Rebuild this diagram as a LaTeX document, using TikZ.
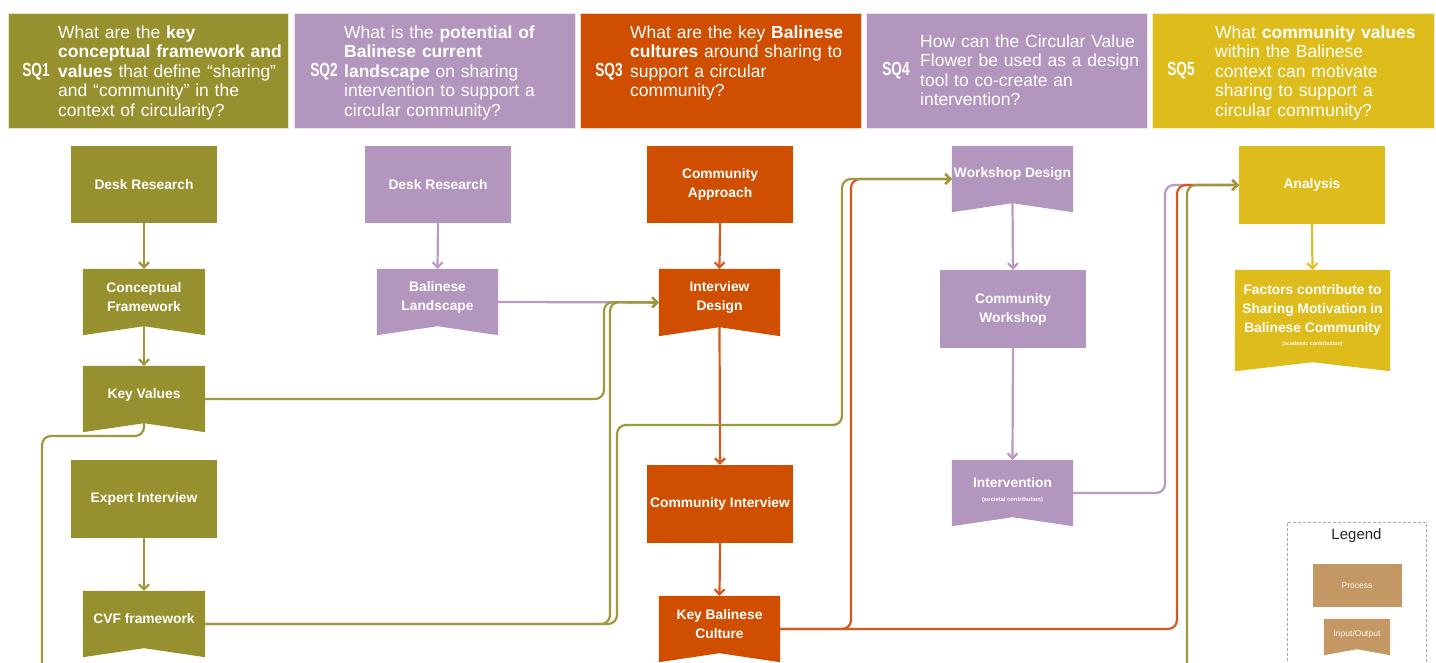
\documentclass[tikz,border=0pt]{standalone}
\usepackage{fontspec}
\setmainfont{Liberation Sans}
\usetikzlibrary{arrows.meta,calc}
\definecolor{olv}{RGB}{150,145,46}
\definecolor{olvl}{RGB}{158,153,60}
\definecolor{lav}{RGB}{178,150,190}
\definecolor{lavl}{RGB}{184,154,198}
\definecolor{org}{RGB}{208,78,0}
\definecolor{orgl}{RGB}{214,88,28}
\definecolor{ylw}{RGB}{222,188,28}
\definecolor{ylwl}{RGB}{224,190,40}
\definecolor{legtan}{RGB}{196,152,100}
\newcommand{\ioshape}[3]{\fill[#2] (#1.north west) -- (#1.north east) -- (#1.south east) -- ([yshift=#3]#1.south) -- (#1.south west) -- cycle;}
\newcommand{\smallfnt}{\fontsize{5.8}{6}\selectfont}
\tikzset{
  nfont/.style={font=\bfseries\fontsize{13.8}{19}\selectfont},
  proc/.style={rectangle, fill=#1, inner sep=0pt, text=white, nfont, align=center},
  iobox/.style={rectangle, inner sep=0pt},
  ntext/.style={inner sep=0pt, text=white, nfont, align=center},
  hdr/.style={rectangle, fill=#1, draw=white!75!#1, line width=0.8pt, inner sep=0pt, minimum height=115pt},
  sqlab/.style={inner sep=0pt, text=white, font=\bfseries\fontsize{19}{19}\selectfont},
  htext/.style={inner sep=0pt, text=white, anchor=base west, text width=250pt, align=left, font=\fontsize{17.5}{19.5}\selectfont},
  conn/.style={line width=2.2pt, rounded corners=9pt, -{Straight Barb[length=5pt,width=10pt]}}
}
\begin{document}
\begin{tikzpicture}[x=1pt,y=-1pt]
\useasboundingbox (0,0) rectangle (1436,663);
\fill[white] (0,0) rectangle (1436,663);
\clip (0,0) rectangle (1436,663);

% ---------- headers ----------
\node[hdr=olv, minimum width=280pt] (h1) at (148,70.5) {};
\node[hdr=lav, minimum width=281pt] (h2) at (434.5,70.5) {};
\node[hdr=org, minimum width=281pt] (h3) at (720.5,70.5) {};
\node[hdr=lav, minimum width=281pt] (h4) at (1006.5,70.5) {};
\node[hdr=ylw, minimum width=282pt] (h5) at (1293,70.5) {};

\node[sqlab] (q1) at (36,72) {\scalebox{0.72}[1]{SQ1}};
\node[sqlab] (q2) at (324,72) {\scalebox{0.72}[1]{SQ2}};
\node[sqlab] (q3) at (609,72) {\scalebox{0.72}[1]{SQ3}};
\node[sqlab] (q4) at (896,71) {\scalebox{0.72}[1]{SQ4}};
\node[sqlab] (q5) at (1181,71) {\scalebox{0.72}[1]{SQ5}};

\node[htext] (t1) at (58,38.5) {What are the \textbf{key}\\\textbf{conceptual framework and}\\\textbf{values} that define “sharing”\\and “community” in the\\context of circularity?};
\node[htext] (t2) at (344,38.5) {What is the \textbf{potential of}\\\textbf{Balinese current}\\\textbf{landscape} on sharing\\intervention to support a\\circular community?};
\node[htext] (t3) at (630,38.5) {What are the key \textbf{Balinese}\\\textbf{cultures} around sharing to\\support a circular\\community?};
\node[htext] (t4) at (920,47.5) {How can the Circular Value\\Flower be used as a design\\tool to co-create an\\intervention?};
\node[htext] (t5) at (1215,38.5) {What \textbf{community values}\\within the Balinese\\context can motivate\\sharing to support a\\circular community?};

% ---------- SQ1 column ----------
\node[proc=olv, minimum width=146pt, minimum height=77pt] (dr1) at (144,184.5) {Desk Research};
\node[iobox, minimum width=122pt, minimum height=66pt] (cf) at (144,302) {};
\ioshape{cf}{olv}{9pt}
\node[ntext] (cft) at ([yshift=5pt]cf.center) {Conceptual\\Framework};
\node[iobox, minimum width=122pt, minimum height=66pt] (kv) at (144,399) {};
\ioshape{kv}{olv}{9pt}
\node[ntext] (kvt) at ([yshift=4pt]kv.center) {Key Values};
\node[proc=olv, minimum width=146pt, minimum height=78pt] (ei) at (144,498.5) {Expert Interview};
\node[iobox, minimum width=122pt, minimum height=66pt] (cvf) at (144,624) {};
\ioshape{cvf}{olv}{9pt}
\node[ntext] (cvft) at ([yshift=5pt]cvf.center) {CVF framework};

% ---------- SQ2 column ----------
\node[proc=lav, minimum width=146pt, minimum height=77pt] (dr2) at (438,184.5) {Desk Research};
\node[iobox, minimum width=121pt, minimum height=66pt] (bl) at (437.5,302) {};
\ioshape{bl}{lav}{9pt}
\node[ntext] (blt) at ([yshift=5pt]bl.center) {Balinese\\Landscape};

% ---------- SQ3 column ----------
\node[proc=org, minimum width=146pt, minimum height=77pt] (ca) at (720,184.5) {Community\\Approach};
\node[iobox, minimum width=121pt, minimum height=67pt] (id) at (719.5,302.5) {};
\ioshape{id}{org}{9pt}
\node[ntext] (idt) at ([yshift=5pt]id.center) {Interview\\Design};
\node[proc=org, minimum width=146pt, minimum height=78pt] (ci) at (720,504) {Community Interview};
\node[iobox, minimum width=121pt, minimum height=66pt] (kbc) at (719.5,629) {};
\ioshape{kbc}{org}{9pt}
\node[ntext] (kbct) at ([yshift=5pt]kbc.center) {Key Balinese\\Culture};

% ---------- SQ4 column ----------
\node[iobox, minimum width=121pt, minimum height=66pt] (wd) at (1012.5,179) {};
\ioshape{wd}{lav}{9pt}
\node[ntext] (wdt) at ([yshift=5pt]wd.center) {Workshop Design};
\node[proc=lav, minimum width=146pt, minimum height=78pt] (cw) at (1013,309) {Community\\Workshop};
\node[iobox, minimum width=121pt, minimum height=66pt] (int) at (1012.5,493) {};
\ioshape{int}{lav}{9pt}
\node[ntext] (intt) at ([yshift=3pt]int.center) {Intervention\\[-5pt]{\smallfnt (societal contribution)}};

% ---------- SQ5 column ----------
\node[proc=ylw, minimum width=146pt, minimum height=78pt] (an) at (1312,185) {Analysis};
\node[iobox, minimum width=155pt, minimum height=101pt] (fac) at (1312.5,320.5) {};
\ioshape{fac}{ylw}{9pt}
\node[ntext] (fact) at ([yshift=5pt]fac.center) {Factors contribute to\\Sharing Motivation in\\Balinese Community\\[-6pt]{\fontsize{5.3}{6}\selectfont (academic contribution)}};

% ---------- legend ----------
\draw[gray!70, line width=0.8pt, dash pattern=on 3pt off 2pt] (1287.5,522.5) rectangle (1426.5,680);
\node[inner sep=0pt, font=\fontsize{15}{17}\selectfont, text=black!85] (lg) at (1356.5,535.5) {Legend};
\node[rectangle, fill=legtan, minimum width=89pt, minimum height=43pt, inner sep=0pt, text=white!94!legtan, font=\fontsize{8.5}{10}\selectfont] (lp) at (1357,585.5) {Process};
\node[iobox, minimum width=66pt, minimum height=36pt] (lio) at (1357,637) {};
\ioshape{lio}{legtan}{6pt}
\node[inner sep=0pt, text=white!94!legtan, font=\fontsize{8.5}{10}\selectfont] (liot) at ([yshift=3pt]lio.center) {Input/Output};

% ---------- vertical arrows ----------
\draw[conn, olvl] (dr1.south) -- (cf.north);
\draw[conn, olvl] ([yshift=9pt]cf.south) -- (kv.north);
\draw[conn, olvl] (ei.south) -- (cvf.north);
\draw[conn, lavl] (dr2.south) -- (bl.north);
\draw[conn, orgl] (ca.south) -- (id.north);
\draw[conn, orgl] ([yshift=9pt]id.south) -- (ci.north);
\draw[conn, orgl] (ci.south) -- (kbc.north);
\draw[conn, lavl] ([yshift=9pt]wd.south) -- (cw.north);
\draw[conn, lavl] (cw.south) -- (int.north);
\draw[conn, ylwl] (an.south) -- (fac.north);

% ---------- long connectors ----------
\draw[conn, lavl] (bl.east) -- (id.west);
\draw[conn, lavl] (int.east) -| (1165,185) -- (an.west);
\draw[conn, orgl] (kbc.east) -| (851,179) -- (wd.west);
\draw[conn, orgl] (kbc.east) -| (1177,185) -- (an.west);
\draw[conn, olvl] (kv.east) -| (604,302) -- (id.west);
\draw[conn, olvl] (cvf.east) -| (610,302) -- (id.west);
\draw[conn, olvl] (cvf.east) -| (617,425) -| (842,179) -- (wd.west);
\draw[conn, olvl] ([yshift=9pt]kv.south) -- (144,436) -- (42,436) -- (42,720) -- (1187,720) -- (1187,185) -- (an.west);
\end{tikzpicture}
\end{document}
